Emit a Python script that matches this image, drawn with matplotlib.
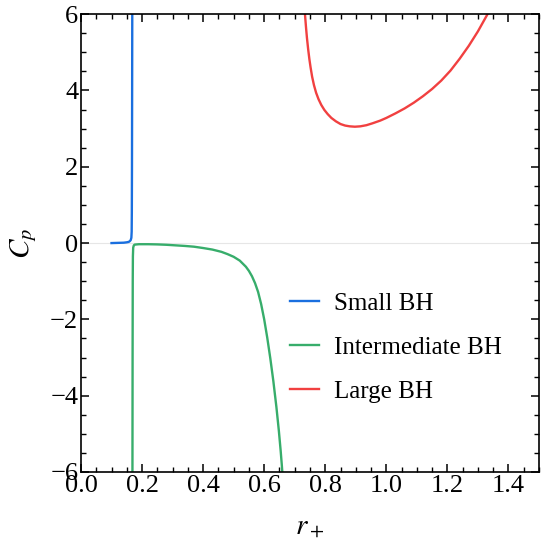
import numpy as np
import matplotlib
matplotlib.use("Agg")
import matplotlib.pyplot as plt

plt.rcParams["font.family"] = ["Liberation Serif", "DejaVu Serif"]
plt.rcParams["mathtext.fontset"] = "stix"

# values
small_r = [0.100, 0.120, 0.140, 0.150, 0.156, 0.160, 0.163, 0.165, 0.1660, 0.1665, 0.1670, 0.1675, 0.1680]
small_cp = [0.00, 0.005, 0.01, 0.02, 0.03, 0.05, 0.08, 0.14, 0.30, 0.80, 2.0, 4.0, 6.2]

inter_r = [0.1685, 0.1690, 0.1695, 0.1700, 0.1710, 0.1730, 0.1760, 0.19, 0.22, 0.25, 0.28, 0.31,
           0.34, 0.37, 0.40, 0.43, 0.46, 0.48, 0.50, 0.52, 0.54, 0.55, 0.56, 0.57, 0.58,
           0.59, 0.60, 0.61, 0.62, 0.63, 0.64, 0.648, 0.654, 0.658, 0.662]
inter_cp = [-6.2, -3.0, -1.0, -0.35, -0.12, -0.06, -0.04, -0.03, -0.03, -0.035, -0.045, -0.06,
            -0.075, -0.095, -0.13, -0.17, -0.23, -0.29, -0.36, -0.46, -0.62, -0.73, -0.87, -1.05, -1.28,
            -1.60, -2.00, -2.48, -3.02, -3.62, -4.30, -4.92, -5.45, -5.85, -6.3]

large_r = [0.732, 0.734, 0.737, 0.740, 0.744, 0.748, 0.752, 0.757, 0.763, 0.770, 0.778, 0.787,
           0.797, 0.808, 0.820, 0.835, 0.850, 0.865, 0.880, 0.897, 0.915, 0.935, 0.955, 0.98,
           1.00, 1.03, 1.06, 1.09, 1.12, 1.15, 1.18, 1.21, 1.24, 1.27, 1.30, 1.33, 1.34]
large_cp = [6.2, 5.95, 5.65, 5.38, 5.08, 4.82, 4.6, 4.36, 4.14, 3.94, 3.77, 3.62,
            3.49, 3.38, 3.28, 3.19, 3.12, 3.08, 3.06, 3.05, 3.06, 3.09, 3.14, 3.21,
            3.28, 3.40, 3.53, 3.68, 3.85, 4.04, 4.26, 4.52, 4.83, 5.17, 5.55, 5.98, 6.15]

fig = plt.figure(figsize=(5.45, 5.45), dpi=100)
ax = fig.add_axes([0.1486, 0.134, 0.8404, 0.840])

ax.axhline(0, color="#e6e6e6", lw=0.8, zorder=0)
ax.plot(small_r, small_cp, color="#1a6fdf", lw=1.7, label="Small BH")
ax.plot(inter_r, inter_cp, color="#37ad6b", lw=1.7, label="Intermediate BH")
ax.plot(large_r, large_cp, color="#f14040", lw=1.7, label="Large BH")

ax.set_xlim(0, 1.5)
ax.set_ylim(-6, 6)
ax.set_xticks(np.arange(0, 1.41, 0.2))
ax.set_xticks(np.arange(0, 1.501, 0.05), minor=True)
ax.set_yticks(np.arange(-6, 6.1, 2))
ax.set_yticks(np.arange(-6, 6.01, 0.5), minor=True)
ax.tick_params(which="both", direction="in", top=True, right=True, labelsize=19)
ax.tick_params(which="major", length=6, width=1.1, pad=2)
ax.tick_params(which="minor", length=3.5, width=1.0)
for s in ax.spines.values():
    s.set_linewidth(1.2)

ax.set_xlabel(r"$r_+$", fontsize=21, labelpad=12)
ax.set_ylabel(r"$C_p$", fontsize=21, labelpad=8)

ax.legend(loc="upper left", bbox_to_anchor=(0.456, 0.392), frameon=False, fontsize=18,
          handlelength=1.15, handletextpad=0.6, labelspacing=0.85, borderpad=0, borderaxespad=0)

fig.savefig("out.png", dpi=100)
